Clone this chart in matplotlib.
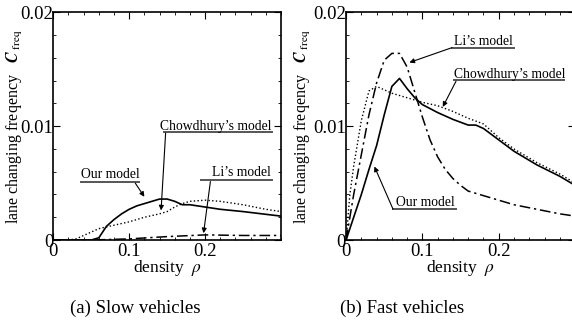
import numpy as np
import matplotlib
matplotlib.use('Agg')
import matplotlib.pyplot as plt
from matplotlib.ticker import MultipleLocator

plt.rcParams['font.family'] = ['Liberation Serif', 'DejaVu Serif']
plt.rcParams['mathtext.fontset'] = 'stix'

# ---- (a) slow vehicles ----
slow_our_x = [0, 0.05, 0.06, 0.07, 0.08, 0.09, 0.10, 0.11, 0.12, 0.13, 0.14, 0.15,
              0.16, 0.17, 0.18, 0.20, 0.22, 0.25, 0.30]
slow_our_y = [0, 0, 0.0002, 0.0012, 0.0018, 0.0023, 0.0027, 0.0030, 0.0032, 0.0034,
              0.0036, 0.0036, 0.0034, 0.0031, 0.0031, 0.0029, 0.0027, 0.0025, 0.0021]
slow_chow_x = [0, 0.02, 0.03, 0.04, 0.05, 0.06, 0.08, 0.10, 0.12, 0.14, 0.15, 0.16,
               0.17, 0.18, 0.20, 0.22, 0.25, 0.28, 0.30]
slow_chow_y = [0, 0, 0.0001, 0.0004, 0.0007, 0.0010, 0.0013, 0.0016, 0.0020, 0.0023,
               0.0025, 0.0029, 0.0032, 0.0034, 0.0035, 0.0034, 0.0031, 0.0027, 0.0025]
slow_li_x = [0, 0.05, 0.10, 0.15, 0.20, 0.25, 0.30]
slow_li_y = [0, 0, 0.0001, 0.0003, 0.00045, 0.0004, 0.0004]

# ---- (b) fast vehicles ----
fast_our_x = [0, 0.01, 0.02, 0.03, 0.04, 0.05, 0.06, 0.07, 0.08, 0.09, 0.10, 0.12,
              0.14, 0.16, 0.17, 0.18, 0.20, 0.22, 0.25, 0.28, 0.30]
fast_our_y = [0, 0.0020, 0.0040, 0.0062, 0.0083, 0.0110, 0.0135, 0.0142, 0.0133,
              0.0125, 0.0119, 0.0112, 0.0106, 0.0101, 0.0101, 0.0098, 0.0088, 0.0078,
              0.0066, 0.0056, 0.0048]
fast_chow_x = [0, 0.005, 0.01, 0.02, 0.03, 0.04, 0.05, 0.06, 0.07, 0.08, 0.09, 0.10,
               0.12, 0.14, 0.16, 0.18, 0.20, 0.22, 0.25, 0.28, 0.30]
fast_chow_y = [0, 0.0040, 0.0065, 0.0105, 0.0131, 0.0135, 0.0132, 0.0129, 0.0127,
               0.0125, 0.0123, 0.0121, 0.0118, 0.0113, 0.0107, 0.0102, 0.0090, 0.0080,
               0.0068, 0.0058, 0.0050]
fast_li_x = [0, 0.01, 0.02, 0.03, 0.04, 0.05, 0.06, 0.07, 0.08, 0.09, 0.10, 0.11,
             0.12, 0.13, 0.14, 0.15, 0.16, 0.18, 0.20, 0.22, 0.25, 0.28, 0.30]
fast_li_y = [0, 0.0040, 0.0075, 0.0110, 0.0138, 0.0158, 0.0164, 0.0164, 0.0152,
             0.0130, 0.0108, 0.0088, 0.0073, 0.0062, 0.0054, 0.0048, 0.0043, 0.0039,
             0.0035, 0.0031, 0.0027, 0.0023, 0.0021]

captions = ['(a) Slow vehicles', '(b) Fast vehicles']
ylabel = r'lane changing freqency   $\mathbfit{C}_{\ \mathrm{freq}}$'

DASHDOT = (0, (7, 2.5, 1.5, 2.5))


def style_axes(ax, label_x):
    ax.set_xlim(0, 0.3)
    ax.set_ylim(0, 0.02)
    ax.set_xticks([0, 0.1, 0.2])
    ax.set_xticklabels(['0', '0.1', '0.2'])
    ax.set_yticks([0, 0.01, 0.02])
    ax.set_yticklabels(['0', '0.01', '0.02'])
    ax.xaxis.set_minor_locator(MultipleLocator(0.02))
    ax.yaxis.set_minor_locator(MultipleLocator(0.002))
    ax.tick_params(which='both', direction='in', top=True, right=True,
                   labelsize=13.5)
    ax.tick_params(axis='x', pad=2)
    ax.tick_params(axis='y', pad=0)
    ax.tick_params(which='major', length=5, width=0.8)
    ax.tick_params(which='minor', length=2.5, width=0.6)
    for s in ax.spines.values():
        s.set_linewidth(1.2)
    ax.set_xlabel(r'density  $\rho$', fontsize=12.5, labelpad=-1)
    ax.set_ylabel(ylabel, fontsize=11.5)
    ax.yaxis.set_label_coords(label_x, 0.5)


def label(ax, text, tx, ty, x0, x1, uy, ax0, ay0, ax1, ay1):
    ax.text(tx, ty, text, ha='center', va='center', fontsize=9.8)
    ax.plot([x0, x1], [uy, uy], color='#555555', lw=1.4, clip_on=False)
    ax.annotate('', xy=(ax1, ay1), xytext=(ax0, ay0),
                arrowprops=dict(arrowstyle='-|>', color='black', lw=0.8,
                                mutation_scale=7, shrinkA=0, shrinkB=0))


fig = plt.figure(figsize=(5.72, 3.27), dpi=100)
ax1 = fig.add_axes([0.0932, 0.266, 0.398, 0.696])
ax2 = fig.add_axes([0.605, 0.266, 0.4004, 0.696])

# slow vehicles
ax1.plot(slow_our_x, slow_our_y, '-', color='black', lw=1.2)
ax1.plot(slow_chow_x, slow_chow_y, ':', color='black', lw=1.0)
ax1.plot(slow_li_x, slow_li_y, linestyle=DASHDOT, color='black', lw=1.1)
style_axes(ax1, -0.124)
label(ax1, "Chowdhury\u2019s model", 0.2136, 0.0100, 0.146, 0.2876, 0.00952,
      0.148, 0.0094, 0.142, 0.0026)
label(ax1, 'Our model', 0.0748, 0.0058, 0.036, 0.113, 0.00514,
      0.108, 0.0050, 0.120, 0.0038)
label(ax1, "Li\u2019s model", 0.248, 0.0059, 0.194, 0.2876, 0.00529,
      0.207, 0.00514, 0.198, 0.0006)

# fast vehicles
ax2.plot(fast_our_x, fast_our_y, '-', color='black', lw=1.2)
ax2.plot(fast_chow_x, fast_chow_y, ':', color='black', lw=1.0)
ax2.plot(fast_li_x, fast_li_y, linestyle=DASHDOT, color='black', lw=1.1)
style_axes(ax2, -0.144)
label(ax2, "Li\u2019s model", 0.180, 0.01747, 0.1385, 0.2206, 0.01689,
      0.1385, 0.0169, 0.083, 0.0156)
label(ax2, "Chowdhury\u2019s model", 0.214, 0.01454, 0.1415, 0.2857, 0.0141,
      0.144, 0.01395, 0.1267, 0.0117)
label(ax2, 'Our model', 0.1035, 0.00326, 0.0616, 0.144, 0.0027,
      0.0616, 0.0027, 0.0371, 0.00646)

fig.text(135 / 572, 0.058, captions[0], ha='center', va='center', fontsize=13.5)
fig.text(401.7 / 572, 0.058, captions[1], ha='center', va='center', fontsize=13.5)

fig.savefig('out.png', dpi=100)
